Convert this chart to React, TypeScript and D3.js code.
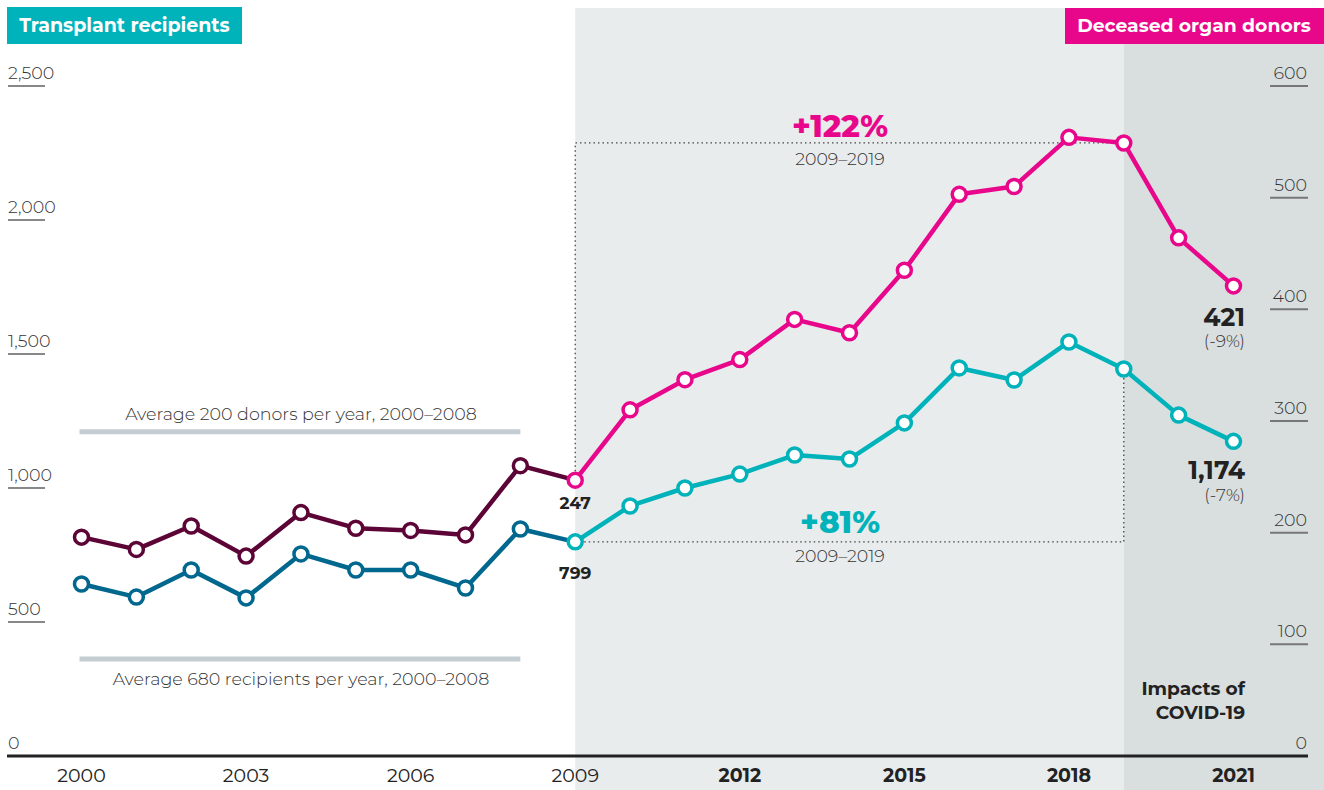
import React from "react";
import * as d3 from "d3";

const years = d3.range(2000, 2022);
const recipients = [642, 593, 694, 590, 754, 694, 694, 627, 847, 799, 933, 1000, 1052, 1123, 1108, 1243, 1448, 1403, 1545, 1444, 1272, 1174];
const donors = [196, 185, 206, 179, 218, 204, 202, 198, 260, 247, 310, 337, 355, 391, 379, 435, 503, 510, 554, 549, 464, 421];
const leftTicks = [0, 500, 1000, 1500, 2000, 2500];
const rightTicks = [0, 100, 200, 300, 400, 500, 600];
const xTickYears = [2000, 2003, 2006, 2009, 2012, 2015, 2018, 2021];
const boldYears = [2012, 2015, 2018, 2021];
// annotation positions (in left-axis units)
const avgDonorLineValue = 1210;
const avgRecipLineValue = 362;

const W = 1324, H = 790;
const FONT = "Montserrat, Inter, 'Open Sans', sans-serif";
const PINK = "#E8078B";
const TEAL = "#00B2B9";
const MAROON = "#5D0436";
const BLUE = "#00678E";

export default function App() {
  const x = d3.scaleLinear().domain([2000, 2021]).range([81.5, 1233.5]);
  const yL = d3.scaleLinear().domain([0, 2500]).range([756, 86]);
  const yR = d3.scaleLinear().domain([0, 600]).range([756, 86]);

  const rec = years.map((yr, i) => ({ yr, v: recipients[i] }));
  const don = years.map((yr, i) => ({ yr, v: donors[i] }));
  const lineL = d3.line<{ yr: number; v: number }>().x(d => x(d.yr)).y(d => yL(d.v));
  const lineR = d3.line<{ yr: number; v: number }>().x(d => x(d.yr)).y(d => yR(d.v));

  const recBefore = rec.filter(d => d.yr <= 2009);
  const recAfter = rec.filter(d => d.yr >= 2009);
  const donBefore = don.filter(d => d.yr <= 2009);
  const donAfter = don.filter(d => d.yr >= 2009);

  const x09 = x(2009), x19 = x(2019);
  const don09 = donors[years.indexOf(2009)], don19 = donors[years.indexOf(2019)];
  const rec09 = recipients[years.indexOf(2009)], rec19 = recipients[years.indexOf(2019)];
  const last = years.length - 1;

  const circles = (data: { yr: number; v: number }[], ys: (v: number) => number, color: (yr: number) => string) =>
    data.map(d => (
      <circle key={d.yr} cx={x(d.yr)} cy={ys(d.v)} r={7} fill="#fff" stroke={color(d.yr)} strokeWidth={3.5} />
    ));

  return (
    <svg width={W} height={H} style={{ position: "absolute", left: 0, top: 0, fontFamily: FONT }}>
      <rect x={0} y={0} width={W} height={H} fill="#fff" />
      {/* shaded bands */}
      <rect x={x09} y={8} width={x19 - x09} height={H - 8} fill="#E8ECED" />
      <rect x={x19} y={8} width={W - x19} height={H - 8} fill="#D9DEDF" />

      {/* header labels */}
      <rect x={7} y={7} width={235} height={37} fill={TEAL} />
      <text x={124.5} y={32} textAnchor="middle" fill="#fff" fontSize={19} fontWeight={700}>Transplant recipients</text>
      <rect x={1065} y={8} width={W - 1065} height={36} fill={PINK} />
      <text x={1194} y={32} textAnchor="middle" fill="#fff" fontSize={18.8} fontWeight={700}>Deceased organ donors</text>

      {/* left axis */}
      {leftTicks.map(t => (
        <g key={"l" + t}>
          <text x={8} y={yL(t) - 7} fontSize={17.5} fill="#333" fontWeight={300}>{d3.format(",")(t)}</text>
          {t > 0 && <line x1={8} x2={45} y1={yL(t)} y2={yL(t)} stroke="#888" strokeWidth={2} />}
        </g>
      ))}
      {/* right axis */}
      {rightTicks.map(t => (
        <g key={"r" + t}>
          <text x={1307} y={yR(t) - 7} fontSize={17.5} fill="#333" fontWeight={300} textAnchor="end">{t}</text>
          {t > 0 && <line x1={1270} x2={1308} y1={yR(t)} y2={yR(t)} stroke="#777" strokeWidth={2} />}
        </g>
      ))}

      {/* baseline */}
      <line x1={7} x2={1308} y1={yL(0)} y2={yL(0)} stroke="#222" strokeWidth={3} />
      {xTickYears.map(yr => (
        <text key={yr} x={x(yr)} y={782} textAnchor="middle" fontSize={19} fill="#222"
          fontWeight={boldYears.includes(yr) ? 700 : 400}>{yr}</text>
      ))}

      {/* average lines */}
      <line x1={x(2000) - 2} x2={x(2008)} y1={yL(avgDonorLineValue)} y2={yL(avgDonorLineValue)} stroke="#C4CDD2" strokeWidth={5} />
      <text x={(x(2000) + x(2008)) / 2} y={yL(avgDonorLineValue) - 12} textAnchor="middle" fontSize={17.5} fill="#333" fontWeight={300}>Average 200 donors per year, 2000–2008</text>
      <line x1={x(2000) - 2} x2={x(2008)} y1={yL(avgRecipLineValue)} y2={yL(avgRecipLineValue)} stroke="#C4CDD2" strokeWidth={5} />
      <text x={(x(2000) + x(2008)) / 2} y={yL(avgRecipLineValue) + 26} textAnchor="middle" fontSize={17.5} fill="#333" fontWeight={300}>Average 680 recipients per year, 2000–2008</text>

      {/* dotted growth boxes */}
      <path d={`M${x09},${yR(don09)} V${yR(don19)} H${x19}`} fill="none" stroke="#444" strokeWidth={1.3} strokeDasharray="1.5,3" />
      <path d={`M${x09},${yL(rec09)} H${x19} V${yL(rec19)}`} fill="none" stroke="#444" strokeWidth={1.3} strokeDasharray="1.5,3" />

      {/* growth labels */}
      <text x={840} y={137} textAnchor="middle" fontSize={31} fontWeight={800} fill={PINK}>+122%</text>
      <text x={840} y={165} textAnchor="middle" fontSize={17.4} fill="#333" fontWeight={300}>2009–2019</text>
      <text x={840} y={533} textAnchor="middle" fontSize={31} fontWeight={800} fill={TEAL}>+81%</text>
      <text x={840} y={562} textAnchor="middle" fontSize={17.4} fill="#333" fontWeight={300}>2009–2019</text>

      {/* lines */}
      <path d={lineL(recBefore) || ""} fill="none" stroke={BLUE} strokeWidth={4.5} strokeLinejoin="round" />
      <path d={lineL(recAfter) || ""} fill="none" stroke={TEAL} strokeWidth={4.5} strokeLinejoin="round" />
      <path d={lineR(donBefore) || ""} fill="none" stroke={MAROON} strokeWidth={4.5} strokeLinejoin="round" />
      <path d={lineR(donAfter) || ""} fill="none" stroke={PINK} strokeWidth={4.5} strokeLinejoin="round" />
      {circles(rec, yL, yr => (yr < 2009 ? BLUE : TEAL))}
      {circles(don, yR, yr => (yr < 2009 ? MAROON : PINK))}

      {/* value labels */}
      <text x={x09} y={yR(don09) + 29} textAnchor="middle" fontSize={17} fontWeight={700} fill="#222">{don09}</text>
      <text x={x09} y={yL(rec09) + 37} textAnchor="middle" fontSize={17} fontWeight={700} fill="#222">{rec09}</text>
      <text x={1245} y={326} textAnchor="end" fontSize={25} fontWeight={700} fill="#222">{donors[last]}</text>
      <text x={1245} y={347} textAnchor="end" fontSize={17} fontWeight={300} fill="#333">(-9%)</text>
      <text x={1245} y={479} textAnchor="end" fontSize={25} fontWeight={700} fill="#222">{d3.format(",")(recipients[last])}</text>
      <text x={1245} y={501} textAnchor="end" fontSize={17} fontWeight={300} fill="#333">(-7%)</text>

      <text x={1245} y={695} textAnchor="end" fontSize={18.6} fontWeight={700} fill="#222">Impacts of</text>
      <text x={1245} y={719} textAnchor="end" fontSize={18.6} fontWeight={700} fill="#222">COVID-19</text>
    </svg>
  );
}
